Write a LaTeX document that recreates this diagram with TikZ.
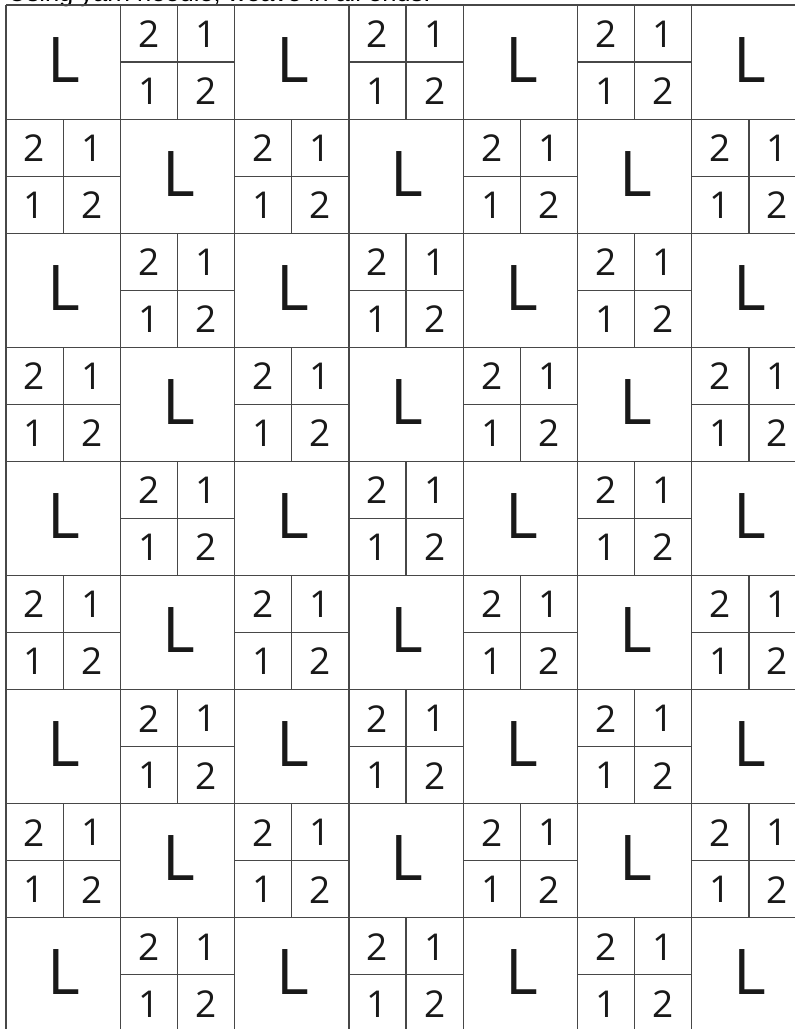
\documentclass[tikz,border=0pt]{standalone}
\usepackage{fontspec}
\setmainfont{Open Sans}
\newfontfamily\titlefont{Liberation Sans}
\begin{document}
\begin{tikzpicture}[x=1pt,y=-1pt,
  gridline/.style={draw=black!72, line width=1.2pt},
  bigL/.style={inner sep=0pt, text=black!90, font=\fontsize{63}{63}\selectfont},
  dig/.style={inner sep=0pt, text=black!90, font=\fontsize{37}{37}\selectfont},
  titletext/.style={inner sep=0pt, anchor=base west, text=black, font=\titlefont\fontsize{25.5}{25.5}\selectfont}]
\useasboundingbox (0,0) rectangle (795,1029);
\clip (0,0) rectangle (795,1029);
\fill[white] (0,0) rectangle (795,1029);
\def\cw{114.3}
\def\rh{114.1}
\def\xo{6}
\def\yo{5}
\node[titletext] (title) at (8,1.5) {Using yarn needle, weave in all ends.};
\foreach \r in {0,...,8}{
  \foreach \c in {0,...,6}{
    \pgfmathtruncatemacro\pp{mod(\r+\c,2)}
    \pgfmathsetmacro\xa{\xo+\c*\cw}
    \pgfmathsetmacro\ya{\yo+\r*\rh}
    \ifnum\pp=0
      \node[bigL] (L-\r-\c) at (\xa+\cw/2+1, \ya+\rh/2-2.5) {L};
    \else
      \draw[gridline] (\xa+\cw/2, \ya) -- (\xa+\cw/2, \ya+\rh);
      \draw[gridline] (\xa, \ya+\rh/2) -- (\xa+\cw, \ya+\rh/2);
      \node[dig] (d-\r-\c-tl) at (\xa+\cw/4, \ya+\rh/4+0.5) {2};
      \node[dig] (d-\r-\c-tr) at (\xa+3*\cw/4, \ya+\rh/4+0.5) {1};
      \node[dig] (d-\r-\c-bl) at (\xa+\cw/4, \ya+3*\rh/4+0.5) {1};
      \node[dig] (d-\r-\c-br) at (\xa+3*\cw/4, \ya+3*\rh/4+0.5) {2};
    \fi
  }
}
\foreach \c in {0,...,7}{
  \draw[gridline] (\xo+\c*\cw, \yo) -- (\xo+\c*\cw, 1040);
}
\foreach \r in {0,...,8}{
  \draw[gridline] (\xo, \yo+\r*\rh) -- (800, \yo+\r*\rh);
}
\end{tikzpicture}
\end{document}
